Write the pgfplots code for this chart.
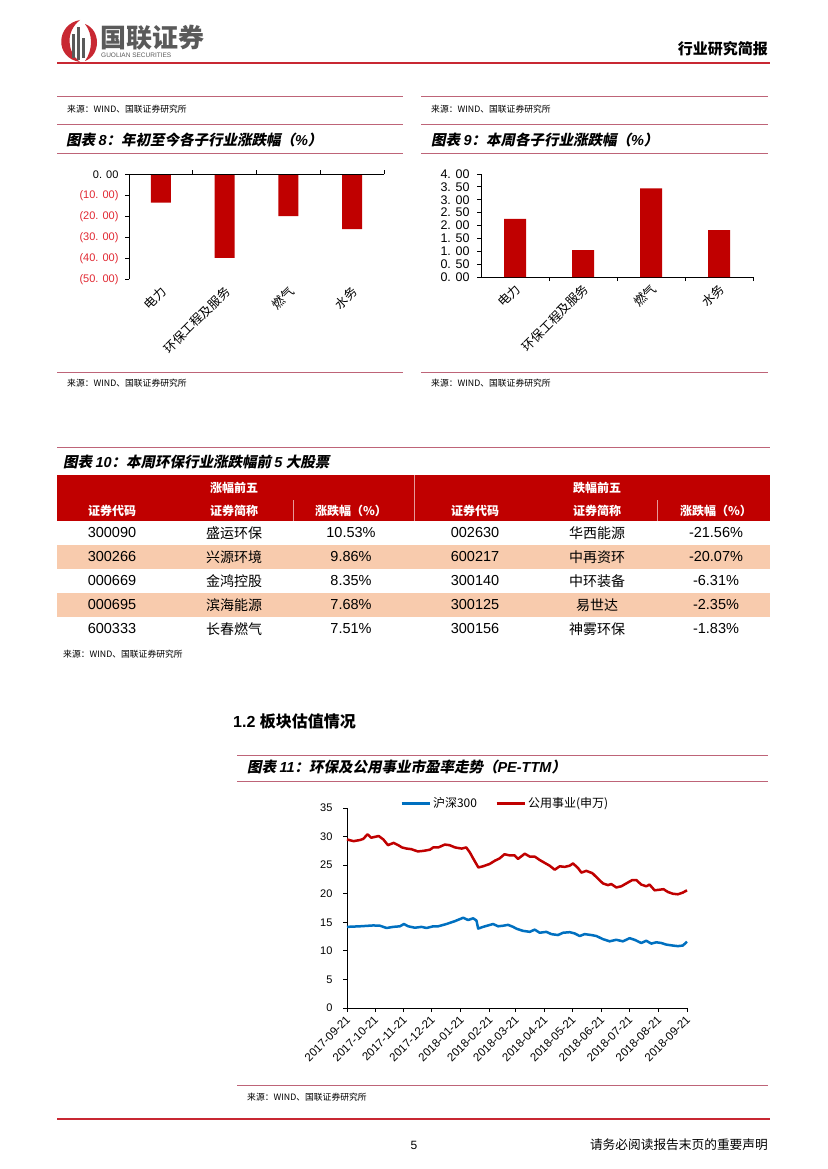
\documentclass[border=0pt]{standalone}
\usepackage{fontspec}
\usepackage{pgfplots}
\pgfplotsset{compat=1.18}
\setmainfont{Liberation Sans}
\newfontfamily\cjk{Noto Sans CJK SC}
\newfontfamily\cjkti[FakeSlant=0.2]{Noto Sans CJK SC}
\newcommand\fs[1]{\fontsize{#1}{#1}\selectfont}
\newcommand\la[1]{{\normalfont\bfseries\itshape #1}}
\definecolor{barred}{RGB}{192,0,0}
\definecolor{negred}{RGB}{225,40,50}
\definecolor{linepink}{RGB}{190,100,120}
\definecolor{hdrred}{RGB}{192,0,0}
\definecolor{peach}{RGB}{248,203,173}
\definecolor{hsblue}{RGB}{0,112,192}
\definecolor{topred}{RGB}{200,40,50}
\definecolor{logogray}{RGB}{90,90,90}
\begin{document}
\begin{tikzpicture}[x=1pt,y=-1pt]
\path[use as bounding box, fill=white] (0,0) rectangle (827,1169);
% ---------- header ----------
\fill[topred] (80,20) .. controls (56,24) and (54,58) .. (80,62) .. controls (67,52) and (65,32) .. (80,20);
\fill[topred] (85,24) .. controls (101,30) and (101,55) .. (85,61) .. controls (93,50) and (93,34) .. (85,24);
\fill[logogray] (72,34) rectangle (74.5,58);
\fill[logogray] (77,27) rectangle (79.5,60);
\fill[logogray] (82,38) rectangle (84.5,58);
\node[anchor=west, inner sep=0, text=logogray] at (100,38) {\cjk\bfseries\fs{26}国联证券};
\node[anchor=west, inner sep=0, text=logogray] at (101,55) {\fs{6.5}GUOLIAN SECURITIES};
\node[anchor=east, inner sep=0] at (768,49) {\cjk\bfseries\fs{15}行业研究简报};
\draw[topred, line width=2pt] (57,63) -- (770,63);
% ---------- panels ----------
\foreach \xa/\xb in {57/403, 421/768}{
  \draw[linepink, line width=1pt] (\xa,97) -- (\xb,97);
  \draw[linepink, line width=1pt] (\xa,125) -- (\xb,125);
  \draw[linepink, line width=1pt] (\xa,154) -- (\xb,154);
  \draw[linepink, line width=1pt] (\xa,372) -- (\xb,372);
  \node[anchor=west, inner sep=0] at (\xa+10,109) {\cjk\fs{8.8}来源：WIND、国联证券研究所};
  \node[anchor=west, inner sep=0] at (\xa+10,383) {\cjk\fs{8.8}来源：WIND、国联证券研究所};
}
\node[anchor=west, inner sep=0] at (66,140) {\cjkti\bfseries\fs{14.5}图表 \la{8}：年初至今各子行业涨跌幅（\la{\%}）};
\node[anchor=west, inner sep=0] at (431,140) {\cjkti\bfseries\fs{14.5}图表 \la{9}：本周各子行业涨跌幅（\la{\%}）};

\begin{axis}[
  at={(129pt,-279.3pt)}, anchor=south west,
  scale only axis, width=255pt, height=105pt,
  xmin=-0.5, xmax=3.5, ymin=-50, ymax=0,
  axis lines*=left, x axis line style={draw=none},
  tick align=outside,
  major tick length=0pt, minor tick length=4pt,
  xtick={0,1,2,3},
  xticklabels={电力,环保工程及服务,燃气,水务},
  xticklabel style={yshift=-9pt, xshift=4pt, rotate=45, anchor=east, font=\cjk\fs{12.5}, inner sep=1pt},
  ytick={-50,-40,-30,-20,-10,0}, minor ytick={-50,-40,-30,-20,-10,0},
  yticklabels={{\color{negred}(50. 00)},{\color{negred}(40. 00)},{\color{negred}(30. 00)},{\color{negred}(20. 00)},{\color{negred}(10. 00)},{0. 00}},
  yticklabel style={font=\fs{11}, xshift=-7pt},
  y axis line style={black, line width=0.8pt},
  every tick/.style={black, line width=0.8pt},
  ybar, bar width=20pt, clip=false,
]
\addplot[fill=barred, draw=none] coordinates {(0,-13.5)(1,-39.8)(2,-19.9)(3,-26.1)};
\draw[black, line width=0.8pt] (axis cs:-0.5,0) -- (axis cs:3.5,0);
\draw[black, line width=0.8pt] (axis cs:0.5,0) -- ++(0pt,4pt);
\draw[black, line width=0.8pt] (axis cs:1.5,0) -- ++(0pt,4pt);
\draw[black, line width=0.8pt] (axis cs:2.5,0) -- ++(0pt,4pt);
\draw[black, line width=0.8pt] (axis cs:3.5,0) -- ++(0pt,4pt);
\end{axis}

\begin{axis}[
  at={(481pt,-277pt)}, anchor=south west,
  scale only axis, width=272pt, height=103pt,
  xmin=-0.5, xmax=3.5, ymin=0, ymax=4,
  axis lines*=left,
  tick align=outside,
  major tick length=0pt, minor tick length=4pt,
  xtick={0,1,2,3}, minor xtick={0.5,1.5,2.5,3.5},
  xticklabels={电力,环保工程及服务,燃气,水务},
  xticklabel style={yshift=-9pt, xshift=4pt, rotate=45, anchor=east, font=\cjk\fs{12.5}, inner sep=1pt},
  ytick={0,0.5,1,1.5,2,2.5,3,3.5,4}, minor ytick={0,0.5,1,1.5,2,2.5,3,3.5,4},
  yticklabels={0. 00,0. 50,1. 00,1. 50,2. 00,2. 50,3. 00,3. 50,4. 00},
  yticklabel style={font=\fs{12.5}, xshift=-8pt},
  axis line style={black, line width=0.8pt},
  every tick/.style={black, line width=0.8pt},
  ybar, bar width=22pt, clip=false,
]
\addplot[fill=barred, draw=none] coordinates {(0,2.26)(1,1.045)(2,3.445)(3,1.82)};
\end{axis}

% ---------- table ----------
\draw[linepink, line width=1pt] (57,447) -- (770,447);
\node[anchor=west, inner sep=0] at (63,462) {\cjkti\bfseries\fs{14.5}图表 \la{10}：本周环保行业涨跌幅前 \la{5} 大股票};
\fill[hdrred] (57,475) rectangle (770,521);
\draw[white!60!hdrred, line width=0.6pt] (414,475) -- (414,521);
\draw[white!60!hdrred, line width=0.6pt] (293,500) -- (293,521);
\draw[white!60!hdrred, line width=0.6pt] (657,500) -- (657,521);
\fill[peach] (57,545) rectangle (770,569);
\fill[peach] (57,593) rectangle (770,617);
\begin{scope}[every node/.style={inner sep=0, text=white, font=\cjk\bfseries\fs{12}}]
\node at (234,488) {涨幅前五};
\node at (597,488) {跌幅前五};
\node at (112,511) {证券代码};
\node at (234,511) {证券简称};
\node at (351,511) {涨跌幅（\%）};
\node at (475,511) {证券代码};
\node at (597,511) {证券简称};
\node at (716,511) {涨跌幅（\%）};
\end{scope}
\begin{scope}[every node/.style={inner sep=0}]
\foreach \y/\ca/\na/\pa/\cb/\nb/\pb in {
  533/300090/盛运环保/10.53/002630/华西能源/-21.56,
  557/300266/兴源环境/9.86/600217/中再资环/-20.07,
  581/000669/金鸿控股/8.35/300140/中环装备/-6.31,
  605/000695/滨海能源/7.68/300125/易世达/-2.35,
  629/600333/长春燃气/7.51/300156/神雾环保/-1.83}{
  \node at (112,\y) {\fs{14.5}\ca};
  \node at (234,\y) {\cjk\fs{14}\na};
  \node at (351,\y) {\fs{14.5}\pa\%};
  \node at (475,\y) {\fs{14.5}\cb};
  \node at (597,\y) {\cjk\fs{14}\nb};
  \node at (716,\y) {\fs{14.5}\pb\%};
}
\end{scope}
\node[anchor=west, inner sep=0] at (63,654) {\cjk\fs{8.8}来源：WIND、国联证券研究所};

% ---------- section 1.2 ----------
\node[anchor=west, inner sep=0] at (233,721) {\bfseries\fs{16}1.2 {\cjk 板块估值情况}};
\draw[linepink, line width=1pt] (237,755) -- (768,755);
\node[anchor=west, inner sep=0] at (247,767) {\cjkti\bfseries\fs{14.5}图表 \la{11}：环保及公用事业市盈率走势（\la{PE-TTM}）};
\draw[linepink, line width=1pt] (237,781) -- (768,781);

\begin{axis}[
  at={(347pt,-1008pt)}, anchor=south west,
  scale only axis, width=340pt, height=200pt,
  xmin=0, xmax=365, ymin=0, ymax=35,
  axis lines*=left, tick align=outside,
  major tick length=4pt,
  ytick={0,5,10,15,20,25,30,35},
  xtick={0,30,61,91,122,153,181,212,242,273,303,334,365},
  xticklabels={2017-09-21,2017-10-21,2017-11-21,2017-12-21,2018-01-21,2018-02-21,2018-03-21,2018-04-21,2018-05-21,2018-06-21,2018-07-21,2018-08-21,2018-09-21},
  xticklabel style={yshift=-5pt, xshift=2pt, rotate=45, anchor=east, font=\fs{11.5}, inner sep=1pt},
  yticklabel style={font=\fs{11}, xshift=-7pt},
  /pgf/number format/assume math mode=true,
  axis line style={black, line width=0.8pt},
  every tick/.style={black, line width=0.8pt},
  legend columns=2,
  legend style={draw=none, fill=none, at={(0.465,1.025)}, anchor=center, font=\cjk\fs{12}, /tikz/every even column/.append style={column sep=16pt}},
  legend image code/.code={\draw[#1, line width=3pt] (0pt,0pt) -- (28pt,0pt);},
  clip=false,
]
\addplot[hsblue, line width=2.5pt, line join=round] coordinates {
(0,14.2)(13.9,14.3)(28.2,14.45)(35.4,14.4)(42.5,14.0)(49.7,14.2)(56.8,14.3)(61.1,14.7)(65.7,14.3)(72.9,14.05)(80,14.2)(85.4,14.0)(92.5,14.3)(97.9,14.3)(106.8,14.7)(115.8,15.2)(121.1,15.55)(124.7,15.8)(130,15.4)(135.4,15.7)(139,15.3)(140.8,13.9)(146.1,14.2)(156.8,14.7)(162.2,14.3)(167.5,14.4)(172.9,14.55)(178.3,14.2)(181.9,13.88)(189,13.5)(196.2,13.33)(201.5,13.72)(206.9,13.17)(214,13.33)(219.4,12.93)(226.5,12.77)(231.9,13.17)(239,13.27)(244.4,13.05)(249.8,12.6)(255.1,12.93)(262.3,12.77)(267.7,12.6)(274.8,12.05)(281.9,11.67)(289.1,11.94)(296.2,11.67)(303.4,12.22)(308.7,11.94)(315.9,11.38)(321.3,11.77)(326.6,11.27)(332,11.5)(337.3,11.38)(342.7,11.1)(349.8,10.93)(355.2,10.83)(360.5,10.93)(365,11.6)};
\addlegendentry{沪深300}
\addplot[barred, line width=2.5pt, line join=round] coordinates {
(0,29.5)(7,29.2)(14,29.4)(17.5,29.6)(22,30.4)(26,29.8)(34,30.1)(39,29.5)(44,28.5)(50,28.9)(55,28.5)(59,28.1)(64,27.9)(69,27.8)(76,27.4)(82,27.5)(89,27.7)(92.5,28.1)(98,28.1)(105,28.6)(110,28.5)(116,28.1)(123,27.9)(128,28.1)(132,27.2)(135,26.3)(141,24.6)(146,24.8)(153,25.2)(159,25.8)(164,26.2)(169,26.9)(175,26.7)(180,26.7)(183.6,26.1)(190.8,27.0)(196.2,26.5)(201.5,26.5)(206.9,25.9)(212.2,25.4)(217.6,24.9)(223,24.2)(228.3,24.8)(233.7,24.7)(239,24.9)(242.6,25.3)(248,24.5)(251.6,23.7)(256.9,24.0)(263.4,23.6)(268.4,22.8)(274.8,21.8)(280.2,21.5)(283.7,21.7)(289.1,21.1)(294.5,21.3)(299.8,21.8)(306.3,22.4)(310.5,22.4)(315.9,21.6)(321.3,21.3)(324.8,21.6)(330.2,20.6)(335.5,20.7)(339.8,20.8)(344.5,20.3)(349.8,20.0)(355.2,19.9)(360.5,20.2)(365,20.6)};
\addlegendentry{公用事业(申万)}
\end{axis}

\draw[linepink, line width=1pt] (237,1085) -- (768,1085);
\node[anchor=west, inner sep=0] at (247,1097) {\cjk\fs{8.8}来源：WIND、国联证券研究所};
\draw[topred, line width=2pt] (57,1119) -- (770,1119);
\node[inner sep=0] at (414,1145) {\fs{12}5};
\node[anchor=east, inner sep=0] at (768,1145) {\cjk\fs{12.7}请务必阅读报告末页的重要声明};
\end{tikzpicture}
\end{document}
